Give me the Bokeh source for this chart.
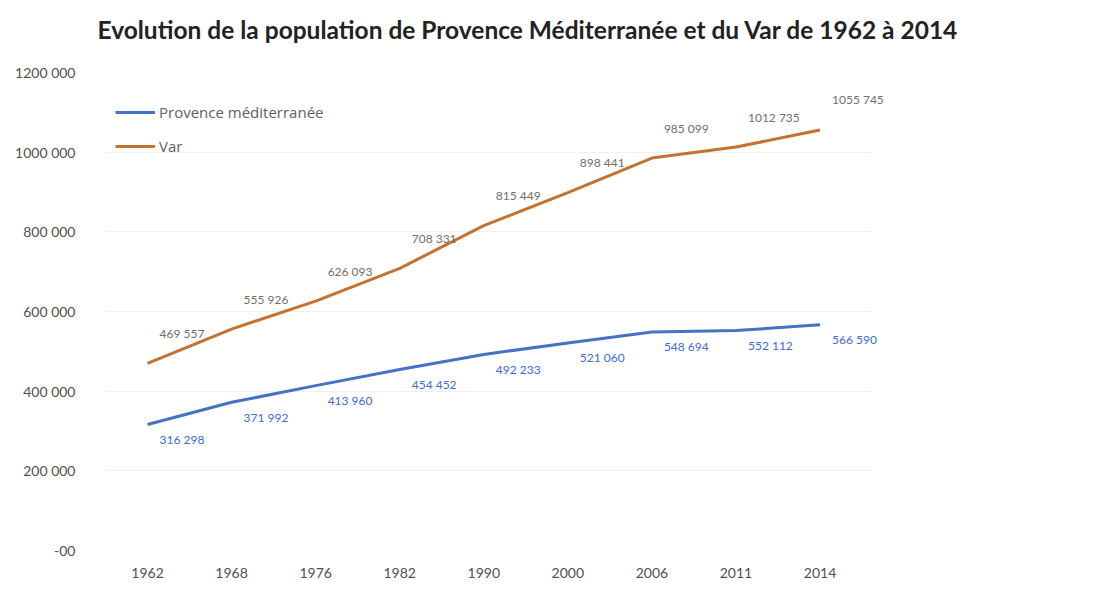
from bokeh.plotting import figure
from bokeh.models import (ColumnDataSource, Range1d, FixedTicker, Legend, LegendItem,
                          LabelSet)
from bokeh.core.properties import value
from bokeh.embed import file_html
from bokeh.resources import INLINE

years = ["1962", "1968", "1976", "1982", "1990", "2000", "2006", "2011", "2014"]
provence = [316298, 371992, 413960, 454452, 492233, 521060, 548694, 552112, 566590]
var = [469557, 555926, 626093, 708331, 815449, 898441, 985099, 1012735, 1055745]
y_ticks = [0, 200000, 400000, 600000, 800000, 1000000, 1200000]
y_tick_labels = ["-00", "200 000", "400 000", "600 000", "800 000", "1000 000", "1200 000"]
title_text = "Evolution de la population de Provence Méditerranée et du Var de 1962 à 2014"

BLUE = "#4472C4"
ORANGE = "#C5722F"
FONT = "Lato"


def fmt(v):
    return f"{v // 1000} {v % 1000:03d}"


idx = list(range(len(years)))
src = ColumnDataSource(dict(
    x=idx,
    prov=provence,
    var=var,
    prov_lbl=[fmt(v) for v in provence],
    var_lbl=[fmt(v) for v in var],
))

p = figure(width=1099, height=589, output_backend="svg", toolbar_location=None,
           x_range=Range1d(-0.5, len(years) - 0.5 + 0.6), y_range=Range1d(0, 1200000),
           min_border_left=105, min_border_right=187, min_border_top=72, min_border_bottom=39)

p.title.text = title_text + "\n "
p.title.text_font = FONT
p.title.text_font_size = "24.5px"
p.title.text_font_style = "bold"
p.title.text_color = "#222222"
p.title.align = "left"
p.title.vertical_align = "bottom"
p.title.offset = -8
p.title.standoff = 0

p.outline_line_color = None
p.background_fill_color = "white"
p.border_fill_color = "white"

p.xgrid.grid_line_color = None
p.ygrid.grid_line_color = "#f0f0f0"
p.ygrid.ticker = y_ticks
try:
    p.ygrid.cross_bounds = (-0.5, len(years) - 0.5 + 0.1)
except Exception:
    pass

for ax in (p.xaxis[0], p.yaxis[0]):
    ax.axis_line_color = None
    ax.major_tick_line_color = None
    ax.minor_tick_line_color = None
    ax.major_label_text_font = FONT
    ax.major_label_text_font_size = "14px"
    ax.major_label_text_color = "#505050"

p.yaxis.ticker = y_ticks
p.yaxis.major_label_overrides = dict(zip(y_ticks, y_tick_labels))
p.yaxis.major_label_standoff = 24
p.xaxis.ticker = FixedTicker(ticks=idx)
p.xaxis.major_label_overrides = dict(zip(idx, years))
p.xaxis.major_label_standoff = 11

r_prov = p.line("x", "prov", source=src, line_color=BLUE, line_width=3)
r_var = p.line("x", "var", source=src, line_color=ORANGE, line_width=3)

p.add_layout(LabelSet(x="x", y="var", text="var_lbl", source=src, text_font=value(FONT),
                      text_font_size="12px", text_color="#756D66", text_align="left",
                      text_baseline="middle", x_offset=12, y_offset=30))
p.add_layout(LabelSet(x="x", y="prov", text="prov_lbl", source=src, text_font=value(FONT),
                      text_font_size="12px", text_color="#3A6BD6", text_align="left",
                      text_baseline="middle", x_offset=12, y_offset=-15))

legend = Legend(items=[LegendItem(label="Provence méditerranée", renderers=[r_prov]),
                       LegendItem(label="Var", renderers=[r_var])],
                location=(10, 394), padding=10, margin=0, spacing=14,
                glyph_width=40, glyph_height=20, label_height=20,
                label_text_font="Open Sans", label_text_font_size="15px",
                label_text_color="#606060", label_standoff=4,
                border_line_color=None, background_fill_alpha=0)
p.add_layout(legend)

open("out.html", "w").write(file_html(p, INLINE))
